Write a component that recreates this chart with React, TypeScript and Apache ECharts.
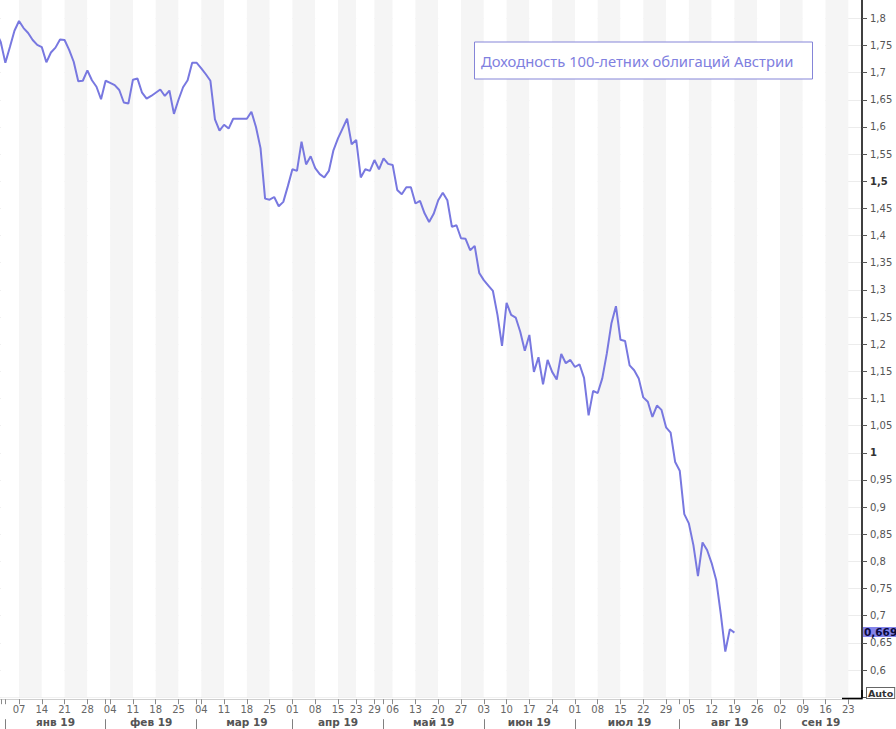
import React, { useEffect, useRef } from 'react';
import * as echarts from 'echarts';

// ---- data ----
const START_DATE = '2018-12-28';
const END_DATE = '2019-09-26';
const HOLIDAYS = ['2019-01-01', '2019-04-19', '2019-04-22', '2019-05-01'];
const MONTH_NAMES = ['янв', 'фев', 'мар', 'апр', 'май', 'июн', 'июл', 'авг', 'сен', 'окт', 'ноя', 'дек'];
const TITLE = 'Доходность 100-летних облигаций Австрии';
const LAST_LABEL = '0,669';

const YIELDS_DEC = [1.775, 1.756];
const YIELDS_JAN = [1.718, 1.747, 1.777, 1.795, 1.782, 1.773, 1.760, 1.751, 1.747, 1.719, 1.737, 1.746, 1.761, 1.760, 1.742, 1.720, 1.684, 1.685, 1.704, 1.686, 1.674, 1.651];
const YIELDS_FEB = [1.685, 1.681, 1.677, 1.668, 1.645, 1.643, 1.687, 1.689, 1.663, 1.652, 1.657, 1.663, 1.669, 1.657, 1.667, 1.624, 1.650, 1.673, 1.686, 1.718];
const YIELDS_MAR = [1.718, 1.708, 1.697, 1.685, 1.614, 1.593, 1.604, 1.597, 1.615, 1.615, 1.615, 1.615, 1.628, 1.600, 1.561, 1.468, 1.466, 1.471, 1.454, 1.462, 1.491];
const YIELDS_APR = [1.522, 1.519, 1.573, 1.531, 1.546, 1.524, 1.513, 1.507, 1.519, 1.557, 1.579, 1.597, 1.615, 1.568, 1.576, 1.507, 1.522, 1.519, 1.539, 1.522];
const YIELDS_MAY = [1.542, 1.532, 1.530, 1.484, 1.476, 1.489, 1.489, 1.459, 1.464, 1.441, 1.425, 1.440, 1.465, 1.479, 1.465, 1.416, 1.419, 1.395, 1.394, 1.373, 1.381, 1.331];
const YIELDS_JUN = [1.318, 1.308, 1.298, 1.254, 1.197, 1.276, 1.254, 1.249, 1.223, 1.188, 1.217, 1.149, 1.176, 1.126, 1.171, 1.149, 1.135, 1.182, 1.165, 1.171];
const YIELDS_JUL = [1.158, 1.163, 1.138, 1.069, 1.114, 1.110, 1.137, 1.183, 1.238, 1.270, 1.208, 1.206, 1.161, 1.152, 1.137, 1.102, 1.094, 1.066, 1.087, 1.079, 1.047, 1.037, 0.983];
const YIELDS_AUG = [0.967, 0.887, 0.870, 0.830, 0.773, 0.835, 0.821, 0.797, 0.766, 0.704, 0.634, 0.675, 0.669];

const YIELDS = [
  ...YIELDS_DEC, ...YIELDS_JAN, ...YIELDS_FEB, ...YIELDS_MAR, ...YIELDS_APR,
  ...YIELDS_MAY, ...YIELDS_JUN, ...YIELDS_JUL, ...YIELDS_AUG,
];

// trading-day calendar (weekdays minus holidays)
function tradingDays(start: string, end: string, holidays: string[]): string[] {
  const out: string[] = [];
  const d = new Date(start + 'T00:00:00Z');
  const e = new Date(end + 'T00:00:00Z');
  while (d.getTime() <= e.getTime()) {
    const wd = d.getUTCDay();
    const s = d.toISOString().slice(0, 10);
    if (wd !== 0 && wd !== 6 && holidays.indexOf(s) < 0) out.push(s);
    d.setUTCDate(d.getUTCDate() + 1);
  }
  return out;
}

const DAYS = tradingDays(START_DATE, END_DATE, HOLIDAYS);

const weekKey = (s: string) => Math.floor((Date.parse(s + 'T00:00:00Z') / 86400000 + 3) / 7);
const monthKey = (s: string) => s.slice(0, 7);

const weekStart = DAYS.map((s, i) => i > 0 && weekKey(s) !== weekKey(DAYS[i - 1]));
const monthStart = DAYS.map((s, i) => i > 0 && monthKey(s) !== monthKey(DAYS[i - 1]));
const monthStarts: number[] = [];
monthStart.forEach((m, i) => { if (m) monthStarts.push(i); });
const monthMid = DAYS.map(() => false);
monthStarts.forEach((s, k) => {
  const next = k + 1 < monthStarts.length ? monthStarts[k + 1] : DAYS.length - 1;
  monthMid[Math.round((s + next) / 2)] = true;
});

const FONT = '"DejaVu Sans", Tahoma, Verdana, sans-serif';

export default function App() {
  const ref = useRef<HTMLDivElement>(null);

  useEffect(() => {
    if (!ref.current) return;
    const chart = echarts.init(ref.current, undefined, { renderer: 'svg' });

    const option: any = {
      animation: false,
      backgroundColor: '#ffffff',
      grid: {
        left: -3.76,
        top: -8.85,
        width: 865.76,
        height: 706.05,
        containLabel: false,
        outerBoundsMode: 'none',
      },
      xAxis: [
        {
          type: 'category',
          data: DAYS,
          boundaryGap: false,
          position: 'bottom',
          offset: 2,
          axisLine: { show: true, onZero: false, lineStyle: { color: '#cfcfcf', width: 1 } },
          axisTick: {
            show: true,
            interval: (i: number) => weekStart[i] || monthStart[i],
            length: 5,
            lineStyle: { color: '#8a8a8a' },
          },
          axisLabel: {
            show: true,
            interval: (i: number) => weekStart[i] && i > 2,
            formatter: (v: string) => v.slice(8, 10),
            margin: 5,
            color: '#666666',
            fontSize: 10,
            fontFamily: FONT,
          },
          splitLine: { show: false },
          splitArea: {
            show: true,
            interval: (i: number) => weekStart[i],
            areaStyle: { color: ['#ffffff', '#f5f5f5'] },
          },
        },
        {
          type: 'category',
          data: DAYS,
          boundaryGap: false,
          position: 'bottom',
          offset: 22,
          axisLine: { show: false },
          axisTick: {
            show: true,
            interval: (i: number) => monthStart[i],
            length: 10,
            lineStyle: { color: '#808080' },
          },
          axisLabel: {
            show: true,
            interval: (i: number) => monthMid[i],
            formatter: (v: string) => MONTH_NAMES[parseInt(v.slice(5, 7), 10) - 1] + ' ' + v.slice(2, 4),
            margin: -3,
            color: '#555555',
            fontWeight: 'bold',
            fontSize: 10.5,
            fontFamily: FONT,
          },
          splitLine: { show: false },
          splitArea: { show: false },
        },
      ],
      yAxis: {
        type: 'value',
        position: 'right',
        min: 0.55,
        max: 1.85,
        interval: 0.05,
        axisLine: { show: true, onZero: false, lineStyle: { color: '#000000', width: 1.5 } },
        axisTick: { show: true, length: 5, lineStyle: { color: '#555555' } },
        axisLabel: {
          margin: 8,
          color: '#555555',
          fontSize: 10,
          fontFamily: FONT,
          formatter: (v: number) => {
            if (v < 0.575 || v > 1.825) return '';
            const s = String(Number(v.toFixed(2))).replace('.', ',');
            if (Math.abs(v - 1.5) < 1e-6 || Math.abs(v - 1) < 1e-6) return '{b|' + s + '}';
            return s;
          },
          rich: {
            b: { fontWeight: 'bold', color: '#333333', fontSize: 10, fontFamily: FONT },
          },
        },
        splitLine: { show: true, lineStyle: { color: '#ececec', width: 1 } },
      },
      series: [
        {
          type: 'line',
          xAxisIndex: 0,
          yAxisIndex: 0,
          data: YIELDS,
          showSymbol: false,
          symbol: 'none',
          lineStyle: { color: '#7878e0', width: 2 },
          itemStyle: { color: '#7878e0' },
          markLine: {
            silent: true,
            symbol: 'none',
            lineStyle: { color: 'rgba(0,0,0,0)', width: 0, type: 'solid' },
            label: {
              show: true,
              position: 'end',
              distance: 1,
              formatter: LAST_LABEL,
              backgroundColor: '#8383ea',
              color: '#0a0a40',
              fontWeight: 'bold',
              fontSize: 10.5,
              lineHeight: 10,
              fontFamily: FONT,
              padding: [0, 1, 0, 1],
            },
            data: [{ yAxis: YIELDS[YIELDS.length - 1] }],
          },
        },
      ],
      graphic: [
        {
          type: 'rect',
          z: 100,
          shape: { x: 474.5, y: 42, width: 338, height: 37 },
          style: { fill: '#ffffff', stroke: '#8585d8', lineWidth: 1 },
        },
        {
          type: 'text',
          z: 101,
          x: 481,
          y: 60.5,
          style: {
            text: TITLE,
            fill: '#8080e0',
            fontSize: 14.8,
            fontFamily: '"Noto Sans", sans-serif',
            verticalAlign: 'middle',
          },
        },
        {
          type: 'polyline',
          z: 100,
          shape: { points: [[842, 698.5], [862, 698.5], [862, 690]] },
          style: { stroke: '#000000', lineWidth: 1.5, fill: null },
        },
        {
          type: 'text',
          z: 100,
          x: 867,
          y: 688,
          style: {
            text: 'Auto',
            fill: '#333333',
            fontSize: 9.5,
            fontWeight: 'bold',
            fontFamily: FONT,
            backgroundColor: '#ffffff',
            borderColor: '#666666',
            borderWidth: 1,
            padding: [0, 1, 0, 1],
          },
        },
      ],
    };

    chart.setOption(option);
    return () => chart.dispose();
  }, []);

  return (
    <div
      ref={ref}
      style={{ position: 'fixed', left: 0, top: 0, width: 896, height: 729, background: '#fff' }}
    />
  );
}
